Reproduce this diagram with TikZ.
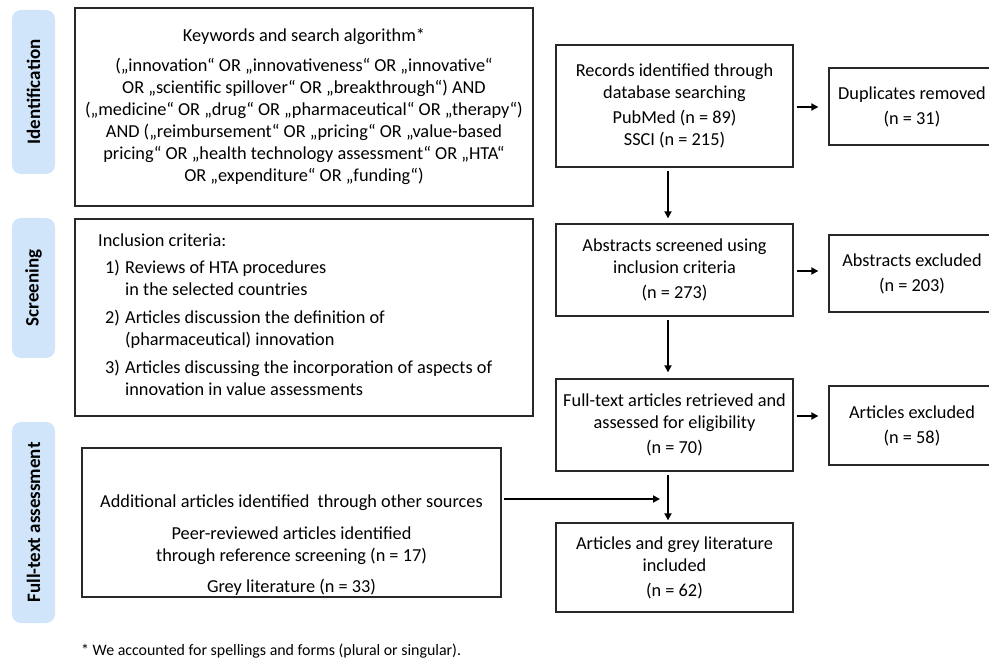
\documentclass[tikz,border=0pt]{standalone}
\usepackage{fontspec}
\setmainfont{Carlito}
\usetikzlibrary{arrows.meta}
\definecolor{sideblue}{RGB}{208,229,249}
\definecolor{boxline}{RGB}{40,40,40}
\begin{document}
\begin{tikzpicture}[x=1pt,y=-1pt,
  box/.style={draw=boxline, line width=1.3pt, inner sep=0pt, align=center,
    font=\fontsize{18.3}{22}\selectfont},
  side/.style={fill=sideblue, rounded corners=9pt, inner sep=0pt, rotate=90,
    minimum height=43pt, font=\fontsize{19}{22}\selectfont\bfseries},
  arr/.style={line width=1.7pt, draw=black, -{Triangle[length=7pt,width=7pt]}},
  txt/.style={inner sep=0pt, align=center, font=\fontsize{18.3}{22}\selectfont}]
\useasboundingbox (0,0) rectangle (989,660);

% phase labels
\node[side, minimum width=164pt] (sid) at (33.5,92) {Identification};
\node[side, minimum width=140pt] (ssc) at (33.5,288) {Screening};
\node[side, minimum width=201pt] (sft) at (33.5,522.5) {Full-text assessment};

% left boxes
\node[box, minimum width=458pt, minimum height=198pt] (kw) at (304,107)
 {Keywords and search algorithm*\\[8pt]
  („innovation“ OR „innovativeness“ OR „innovative“\\
  OR „scientific spillover“ OR „breakthrough“) AND\\
  („medicine“ OR „drug“ OR „pharmaceutical“ OR „therapy“)\\
  AND („reimbursement“ OR „pricing“ OR „value-based\\
  pricing“ OR „health technology assessment“ OR „HTA“\\
  OR „expenditure“ OR „funding“)};

\node[box, minimum width=458pt, minimum height=197pt] (incl) at (304,317.5) {};
\node[txt, anchor=north west, align=left] (incltxt) at (98,234)
 {Inclusion criteria:\\[5pt]
  \hspace*{7pt}\makebox[20pt][l]{1)}Reviews of HTA procedures\\
  \hspace*{27pt}in the selected countries\\[6pt]
  \hspace*{7pt}\makebox[20pt][l]{2)}Articles discussion the definition of\\
  \hspace*{27pt}(pharmaceutical) innovation\\[6pt]
  \hspace*{7pt}\makebox[20pt][l]{3)}Articles discussing the incorporation of aspects of\\
  \hspace*{27pt}innovation in value assessments};

\node[box, minimum width=419pt, minimum height=149pt] (add) at (291.5,522.5) {};
\node[txt] (addtxt) at (291.5,545)
 {Additional articles identified\ \ through other sources\\[10pt]
  Peer-reviewed articles identified\\
  through reference screening (n = 17)\\[9pt]
  Grey literature (n = 33)};

% right column
\node[box, minimum width=237pt, minimum height=122pt] (rec) at (674.5,106)
 {Records identified through\\ database searching\\[3pt] PubMed (n = 89)\\ SSCI (n = 215)};
\node[box, minimum width=166pt, minimum height=77pt] (dup) at (912,106.5)
 {Duplicates removed\\[3pt] (n = 31)};
\node[box, minimum width=237pt, minimum height=92pt] (abs) at (674.5,270)
 {Abstracts screened using\\ inclusion criteria\\[3pt] (n = 273)};
\node[box, minimum width=166pt, minimum height=77pt] (absx) at (912,273.5)
 {Abstracts excluded\\[3pt] (n = 203)};
\node[box, minimum width=237pt, minimum height=92pt] (ft) at (674.5,425)
 {Full-text articles retrieved and\\ assessed for eligibility\\[3pt] (n = 70)};
\node[box, minimum width=166pt, minimum height=79pt] (artx) at (912,425.5)
 {Articles excluded\\[3pt] (n = 58)};
\node[box, minimum width=237pt, minimum height=89pt] (inc) at (674.5,567.5)
 {Articles and grey literature\\ included\\[3pt] (n = 62)};

% footnote
\node[txt, anchor=west, font=\fontsize{15.9}{19}\selectfont] (fn) at (81,651)
 {* We accounted for spellings and forms (plural or singular).};

% connectors
\coordinate (col) at (668,0);
\coordinate (a1) at (0,107);
\coordinate (a2) at (0,271);
\coordinate (a3) at (0,416);
\coordinate (j) at (660,499);

\draw[arr, shorten <=3pt, shorten >=10pt] (rec.east |- a1) -- (dup.west |- a1);
\draw[arr, shorten <=3pt, shorten >=10pt] (abs.east |- a2) -- (absx.west |- a2);
\draw[arr, shorten <=3pt, shorten >=10pt] (ft.east |- a3) -- (artx.west |- a3);

\draw[arr, shorten <=3pt, shorten >=5pt] (rec.south -| col) -- (abs.north -| col);
\draw[arr, shorten <=3pt, shorten >=6pt] (abs.south -| col) -- (ft.north -| col);
\draw[arr, shorten <=3pt, shorten >=2pt] (ft.south -| col) -- (inc.north -| col);
\draw[arr, shorten <=2pt] (add.east |- j) -- (j);
\end{tikzpicture}
\end{document}
